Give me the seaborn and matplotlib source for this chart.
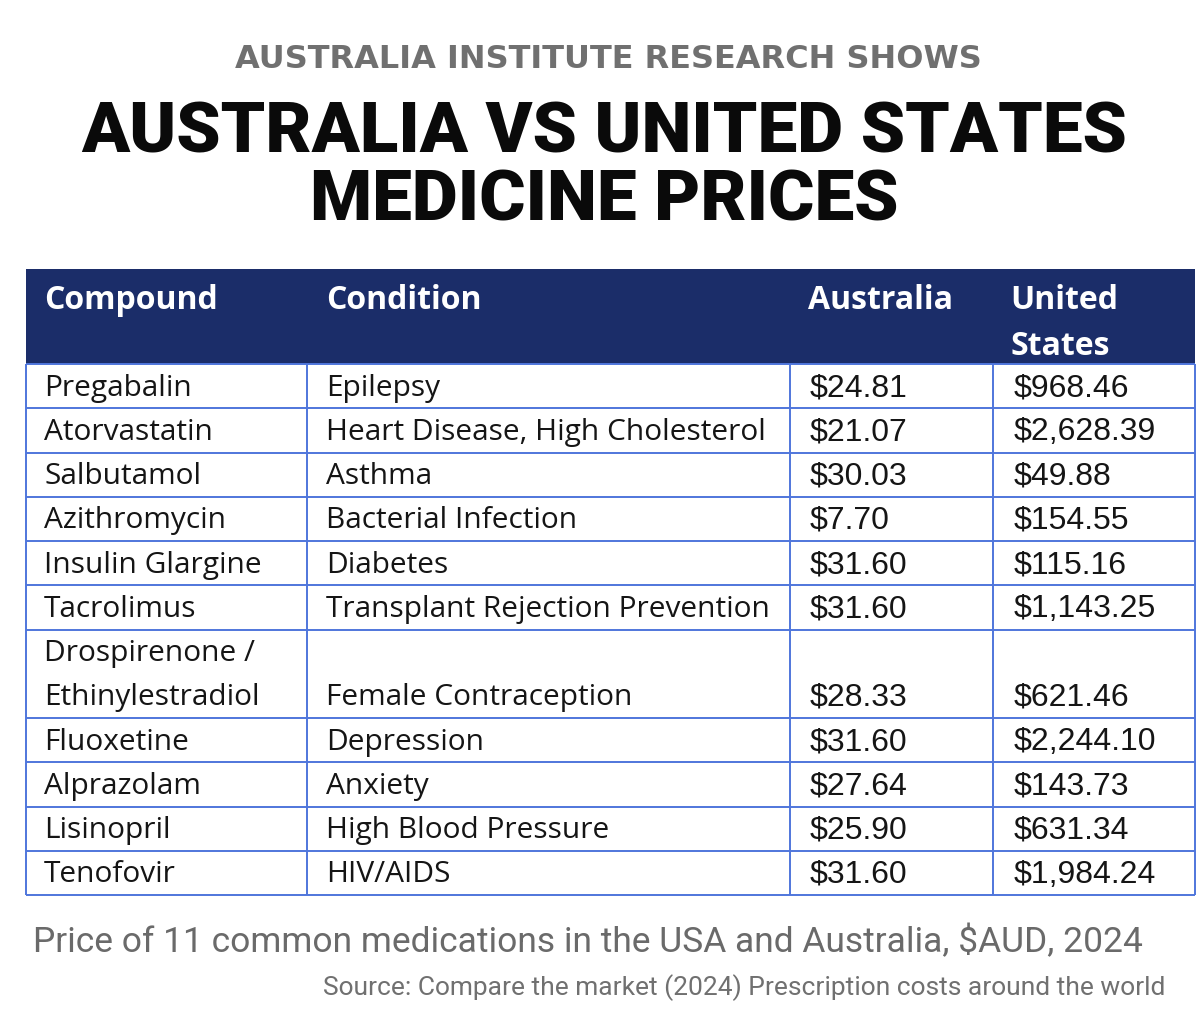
import matplotlib
matplotlib.use("Agg")
import matplotlib.pyplot as plt
from matplotlib.patches import Rectangle
import seaborn as sns

# ---- data ----
headers = ["Compound", "Condition", "Australia", "United\nStates"]
compounds = ["Pregabalin", "Atorvastatin", "Salbutamol", "Azithromycin",
             "Insulin Glargine", "Tacrolimus", "Drospirenone /\nEthinylestradiol",
             "Fluoxetine", "Alprazolam", "Lisinopril", "Tenofovir"]
conditions = ["Epilepsy", "Heart Disease, High Cholesterol", "Asthma",
              "Bacterial Infection", "Diabetes", "Transplant Rejection Prevention",
              "Female Contraception", "Depression", "Anxiety",
              "High Blood Pressure", "HIV/AIDS"]
aus_prices = [24.81, 21.07, 30.03, 7.70, 31.60, 31.60, 28.33, 31.60, 27.64, 25.90, 31.60]
us_prices = [968.46, 2628.39, 49.88, 154.55, 115.16, 1143.25, 621.46, 2244.10,
             143.73, 631.34, 1984.24]

kicker = "AUSTRALIA INSTITUTE RESEARCH SHOWS"
title_lines = ["AUSTRALIA VS UNITED STATES", "MEDICINE PRICES"]
caption = "Price of 11 common medications in the USA and Australia, $AUD, 2024"
source = "Source: Compare the market (2024) Prescription costs around the world"

# ---- style ----
sns.set_theme(style="white")
plt.rcParams["font.family"] = ["Liberation Sans", "DejaVu Sans"]

NAVY = "#1b2d69"
GRID = "#4f76dc"
TXT = "#151515"

fig = plt.figure(figsize=(12, 10.2), dpi=100)
ax = fig.add_axes([0, 0, 1, 1])
ax.set_xlim(0, 1200)
ax.set_ylim(1020, 0)
ax.axis("off")

# titles
ax.text(608, 60, kicker, ha="center", va="center", color="#707070",
        fontsize=23, fontweight="bold", family=["DejaVu Sans"])
for i, line in enumerate(title_lines):
    ax.text(604, 133 + i * 68, line, ha="center", va="center", color="#0a0a0a",
            fontsize=51, fontweight="black", family=["Roboto", "DejaVu Sans"])

# table geometry
col_edges = [26, 307, 790, 993, 1195]
text_pad = [18, 19, 20, 21]
head_pad = [18, 19, 18, 17]
head_top, head_bot = 270, 365
unit = 44.25

n_lines = [c.count("\n") + 1 for c in compounds]
row_edges = [head_bot]
for n in n_lines:
    row_edges.append(row_edges[-1] + n * unit)

ax.add_patch(Rectangle((col_edges[0], head_top), col_edges[-1] - col_edges[0],
                       head_bot - head_top, facecolor=NAVY, edgecolor="none"))

ax.hlines(row_edges, col_edges[0], col_edges[-1], color=GRID, lw=1.4)
ax.vlines(col_edges, head_bot, row_edges[-1], color=GRID, lw=1.4)

# header text
for j, h in enumerate(headers):
    for k, part in enumerate(h.split("\n")):
        ax.text(col_edges[j] + head_pad[j], head_top + 31 + k * 46, part,
                ha="left", va="center", color="white", fontsize=23,
                fontweight="bold", family=["Open Sans", "DejaVu Sans"])

# body
def put(cell, j, bottom, font):
    parts = cell.split("\n")
    m = len(parts)
    for k, part in enumerate(parts):
        yc = bottom - (m - k) * unit + unit / 2
        ax.text(col_edges[j] + text_pad[j], yc + 1, part, ha="left", va="center",
                color=TXT, fontsize=21.5 if j < 2 else 23,
                family=[font, "DejaVu Sans"])

for i in range(len(compounds)):
    b = row_edges[i + 1]
    put(compounds[i], 0, b, "Open Sans")
    put(conditions[i], 1, b, "Open Sans")
    put(f"${aus_prices[i]:,.2f}", 2, b, "Liberation Sans")
    put(f"${us_prices[i]:,.2f}", 3, b, "Liberation Sans")

# footer
ax.text(33, 942, caption, ha="left", va="center", color="#6a6a6a",
        fontsize=25.5, family=["Roboto", "DejaVu Sans"])
ax.text(1165, 988, source, ha="right", va="center", color="#707070",
        fontsize=19, family=["Roboto", "DejaVu Sans"])

fig.savefig("out.png", dpi=100, facecolor="white")
